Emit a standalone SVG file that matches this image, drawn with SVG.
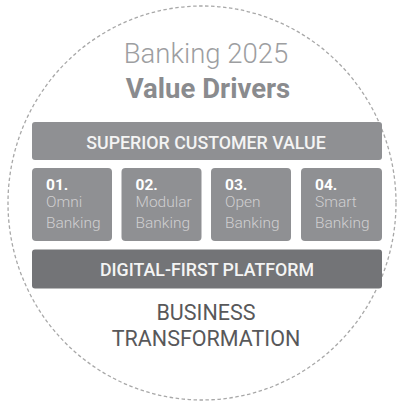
<svg xmlns="http://www.w3.org/2000/svg" width="399" height="402" viewBox="0 0 399 402">
<style>
.t{font-family:Roboto,"Liberation Sans",sans-serif}
.bar{fill:#8f9093}
.box{fill:#8f9093}
.num{font-family:Roboto,"Liberation Sans",sans-serif;font-weight:700;font-size:15.5px;fill:#ffffff}
.lbl{font-family:Roboto,"Liberation Sans",sans-serif;font-weight:300;font-size:15.5px;fill:#cfcfd1}
.head{font-family:Roboto,"Liberation Sans",sans-serif;font-weight:500;font-size:17.8px;fill:#f4f4f4;text-anchor:middle}
</style>
<rect width="399" height="402" fill="#ffffff"/>
<ellipse id="circle" cx="202" cy="203" rx="194" ry="197" fill="none" stroke="#a8a8a8" stroke-width="1.3" stroke-dasharray="3.5 2.5"/>
<g id="title">
<text class="t" x="206" y="63" font-size="27.5" font-weight="300" fill="#9d9ea1" text-anchor="middle">Banking 2025</text>
<text class="t" x="208" y="98" font-size="27.5" font-weight="700" fill="#8a8b8e" text-anchor="middle">Value Drivers</text>
</g>
<g id="superior">
<rect class="bar" x="32" y="122" width="350" height="38" rx="3"/>
<text class="head" x="206" y="148.5">SUPERIOR CUSTOMER VALUE</text>
</g>
<g id="omni">
<rect class="box" x="32" y="168" width="80" height="73" rx="4"/>
<text class="num" x="46" y="190">01.</text>
<text class="lbl" x="46" y="207">Omni</text>
<text class="lbl" x="46" y="228">Banking</text>
</g>
<g id="modular">
<rect class="box" x="121.5" y="168" width="80" height="73" rx="4"/>
<text class="num" x="135.5" y="190">02.</text>
<text class="lbl" x="135.5" y="207">Modular</text>
<text class="lbl" x="135.5" y="228">Banking</text>
</g>
<g id="open">
<rect class="box" x="211" y="168" width="80" height="73" rx="4"/>
<text class="num" x="225" y="190">03.</text>
<text class="lbl" x="225" y="207">Open</text>
<text class="lbl" x="225" y="228">Banking</text>
</g>
<g id="smart">
<rect class="box" x="301" y="168" width="81" height="73" rx="4"/>
<text class="num" x="315" y="190">04.</text>
<text class="lbl" x="315" y="207">Smart</text>
<text class="lbl" x="315" y="228">Banking</text>
</g>
<g id="platform">
<rect x="32" y="249.5" width="350" height="39" rx="3" fill="#737477"/>
<text class="head" x="207" y="275.5">DIGITAL-FIRST PLATFORM</text>
</g>
<g id="business">
<text class="t" x="206" y="320" font-size="21.5" font-weight="400" fill="#58585a" text-anchor="middle">BUSINESS</text>
<text class="t" x="206" y="346" font-size="21.5" font-weight="400" fill="#58585a" text-anchor="middle">TRANSFORMATION</text>
</g>
<g id="connectors"/>
</svg>
